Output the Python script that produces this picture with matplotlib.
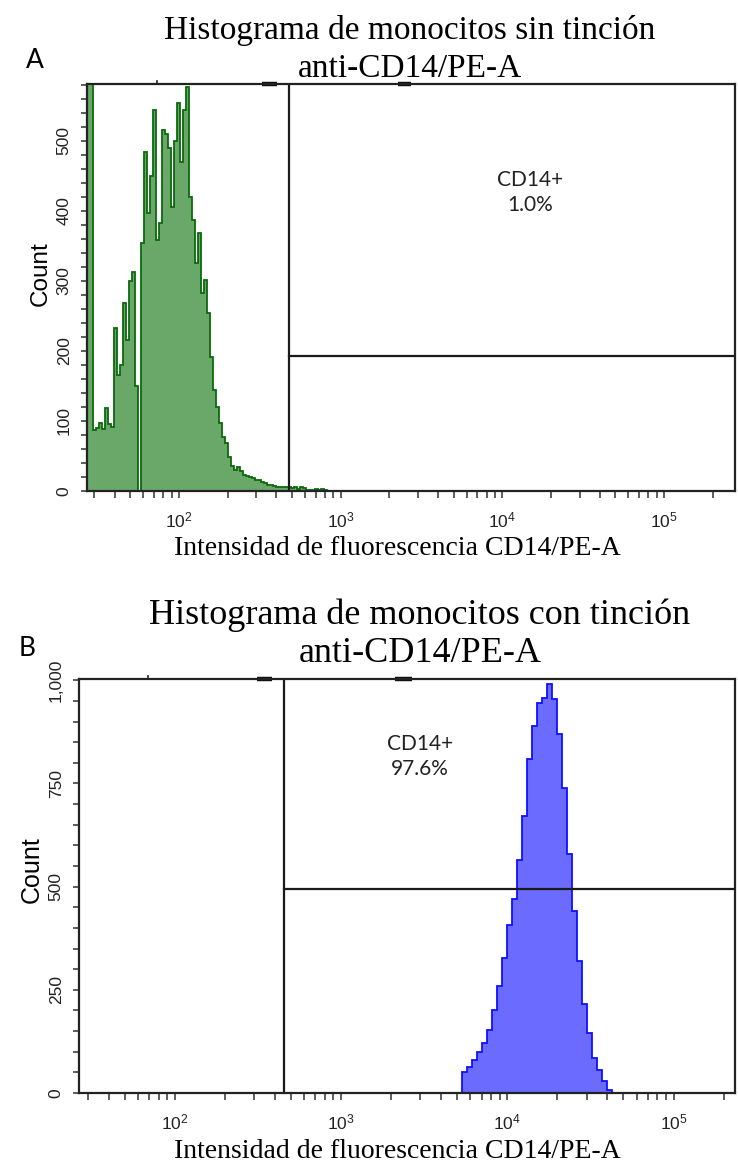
import numpy as np
import matplotlib
matplotlib.use("Agg")
import matplotlib.pyplot as plt
from matplotlib.ticker import FixedLocator, MultipleLocator, FuncFormatter, LogLocator, NullFormatter

plt.rcParams['font.family'] = ['Liberation Sans', 'DejaVu Sans']
plt.rcParams['mathtext.fontset'] = 'custom'
plt.rcParams['mathtext.rm'] = 'Liberation Sans'

# ---- Panel A: unstained monocytes (log10 bin edges, counts per bin) ----
a_log_start, a_log_step = 1.431, 0.01855
a_counts = [1500, 1500, 87, 90, 97, 88, 118, 96, 92, 233,
            165, 180, 268, 216, 300, 313, 150, 0, 354, 484,
            397, 449, 544, 358, 383, 516, 510, 490, 406, 500,
            554, 470, 544, 577, 420, 387, 326, 369, 283, 301,
            254, 191, 144, 120, 97, 77, 69, 49, 35, 30,
            34, 28, 23, 21, 20, 19, 16, 15, 13, 12,
            9, 9, 7, 6, 6, 5, 5, 6, 4, 5,
            3, 5, 4, 2, 1, 2, 3, 1, 3, 2, 0]
a_gate_x, a_gate_y = 478, 193
a_label = "CD14+\n1.0%"

# ---- Panel B: anti-CD14 stained monocytes ----
b_log_start, b_log_step = 3.725, 0.03007
b_counts = [50, 62, 80, 100, 121, 152, 200, 260, 326, 406,
            470, 565, 670, 810, 890, 945, 958, 990, 955, 870,
            740, 580, 440, 320, 215, 145, 85, 55, 28, 8]
b_gate_x, b_gate_y = 454, 494
b_label = "CD14+\n97.6%"

titles = ["Histograma de monocitos sin tinción\nanti-CD14/PE-A",
          "Histograma de monocitos con tinción\nanti-CD14/PE-A"]
xlabel = "Intensidad de fluorescencia CD14/PE-A"

W, H = 738, 1167
fig = plt.figure(figsize=(W / 100, H / 100), dpi=100)


def px_rect(l, t, r, b):
    return [l / W, 1 - b / H, (r - l) / W, (b - t) / H]


def style_axes(ax, xlim, ylim, ymajor, yminor):
    ax.set_xscale('log')
    ax.set_xlim(*xlim)
    ax.set_ylim(*ylim)
    ax.xaxis.set_major_locator(LogLocator(base=10, numticks=10))
    ax.xaxis.set_minor_locator(LogLocator(base=10, subs=np.arange(2, 10), numticks=20))
    ax.xaxis.set_minor_formatter(NullFormatter())
    ax.yaxis.set_major_locator(FixedLocator(ymajor))
    ax.yaxis.set_minor_locator(MultipleLocator(yminor))
    ax.yaxis.set_major_formatter(FuncFormatter(lambda v, p: f"{int(v):,}"))
    ax.tick_params(which='both', direction='out', length=5, width=1.1, color='#333333',
                   labelcolor='#222222', labelsize=12.5)
    ax.tick_params(axis='y', which='both', length=4)
    ax.tick_params(axis='y', labelrotation=90, pad=7)
    for lab in ax.get_yticklabels():
        lab.set_va('center')
    ax.tick_params(axis='x', pad=9)
    for s in ax.spines.values():
        s.set_linewidth(1.6)
        s.set_color('#222222')


def draw_panel(rect, log_start, log_step, counts, face, edge, gate_x, gate_y,
               xlim, ylim, ymajor, yminor, label, label_xy, top_marks):
    ax = fig.add_axes(rect)
    counts = np.array(counts, dtype=float)
    edges = 10 ** (log_start + log_step * np.arange(len(counts) + 1))
    ax.stairs(counts, edges, fill=True, color=face, baseline=0)
    ax.stairs(counts, edges, color=edge, linewidth=1.3, baseline=0)
    ax.axvline(gate_x, color='#1a1a1a', linewidth=1.6)
    ax.plot([gate_x, xlim[1]], [gate_y, gate_y], color='#1a1a1a', linewidth=1.6)
    ax.text(label_xy[0], label_xy[1], label, ha='center', va='center',
            fontsize=15, family=['Lato', 'DejaVu Sans'], color='#222222', linespacing=1.3)
    style_axes(ax, xlim, ylim, ymajor, yminor)
    # small leftover marks sitting on the top frame
    ax.plot([top_marks[0]] * 2, [1.0, 1.008], transform=ax.transAxes, color='#222222',
            lw=1.2, clip_on=False)
    for x0, x1 in top_marks[1:]:
        ax.plot([x0, x1], [1.0, 1.0], transform=ax.transAxes, color='#111111',
                lw=3.2, clip_on=False, solid_capstyle='butt')
    return ax


axA = draw_panel(px_rect(87, 84, 735, 491), a_log_start, a_log_step, a_counts,
                 '#6aa86a', '#0b6a0b', a_gate_x, a_gate_y,
                 (10 ** 1.431, 10 ** 5.438), (0, 581), [0, 100, 200, 300, 400, 500], 20,
                 a_label, (10 ** 4.171, 426),
                 [0.108, (0.270, 0.293), (0.480, 0.500)])
axB = draw_panel(px_rect(79, 679, 735, 1093), b_log_start, b_log_step, b_counts,
                 '#6b6bff', '#1010ff', b_gate_x, b_gate_y,
                 (10 ** 1.423, 10 ** 5.37), (0, 1003), [0, 250, 500, 750, 1000], 50,
                 b_label, (10 ** 3.475, 816),
                 [0.105, (0.271, 0.294), (0.482, 0.508)])

# titles, axis labels and panel letters
fig.text(410 / W, 1 - 49.5 / H, titles[0], ha='center', va='center', fontsize=24,
         family='Liberation Serif', linespacing=1.32)
fig.text(420 / W, 1 - 634.5 / H, titles[1], ha='center', va='center', fontsize=26,
         family='Liberation Serif', linespacing=1.2)
fig.text(397 / W, 1 - 548 / H, xlabel, ha='center', va='center', fontsize=20,
         family='Liberation Serif')
fig.text(397 / W, 1 - 1151 / H, xlabel, ha='center', va='center', fontsize=20,
         family='Liberation Serif')
fig.text(41 / W, 1 - 274 / H, "Count", ha='center', va='center', rotation=90, fontsize=17.5)
fig.text(32 / W, 1 - 870 / H, "Count", ha='center', va='center', rotation=90, fontsize=18)
fig.text(35 / W, 1 - 60 / H, "A", ha='center', va='center', fontsize=19, family=['Lato', 'DejaVu Sans'])
fig.text(27 / W, 1 - 648 / H, "B", ha='center', va='center', fontsize=19, family=['Lato', 'DejaVu Sans'])

fig.savefig('out.png', dpi=100)
